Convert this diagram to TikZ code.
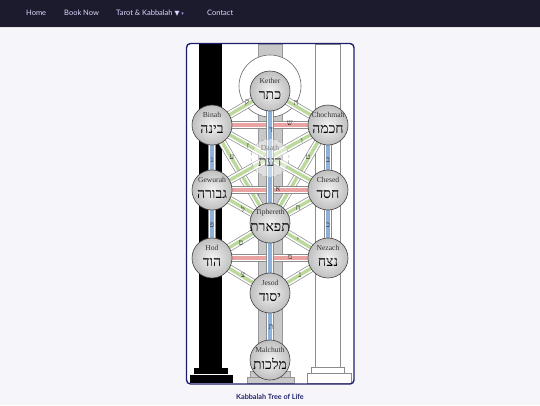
\documentclass[tikz,border=0pt]{standalone}
\usepackage{fontspec}
\setmainfont{Liberation Serif}
\newfontfamily\heb[Script=Hebrew]{Liberation Serif}
\newfontfamily\navfont{Lato}
\newfontfamily\symfont{DejaVu Sans}
\TeXXeTstate=1
\definecolor{navbg}{HTML}{1C1B2E}
\definecolor{pagebg}{HTML}{F6F6FA}
\definecolor{framenavy}{HTML}{1E1E6E}
\definecolor{capnavy}{HTML}{25256E}
\definecolor{midgray}{HTML}{C8C8C8}
\definecolor{pgreen}{HTML}{BCD99C}
\definecolor{ppink}{HTML}{E9A3A3}
\definecolor{pblue}{HTML}{8EB1DA}
\newcommand\hb[1]{\beginR #1\endR}
\newcommand\band[3]{%
  \draw[bandout] (#1) -- (#2);
  \draw[bandin] (#1) -- (#2);
  \draw[#3, line width=3.4pt] (#1) -- (#2);}
\begin{document}
\begin{tikzpicture}[x=1pt,y=-1pt,
  seph/.style={circle, minimum size=40pt, inner sep=0pt, draw=black!75, line width=0.6pt, inner color=white!95!black, outer color=black!25},
  en/.style={font=\fontsize{7.6}{8}\selectfont, text=black!80, inner sep=0pt},
  hbl/.style={font=\heb\fontsize{14}{15}\selectfont, text=black, inner sep=0pt},
  pl/.style={font=\heb\fontsize{8}{9}\selectfont, text=black!80, inner sep=0pt},
  navt/.style={font=\navfont\fontsize{7.5}{9}\selectfont, text=white!85!blue, anchor=west, inner sep=0pt},
  bandout/.style={line width=8pt, draw=black!45},
  bandin/.style={line width=6.6pt, draw=white},
]
\useasboundingbox (0,0) rectangle (540,405);
\fill[pagebg] (0,0) rectangle (540,405);
\fill[black!10] (0,26) rectangle (540,28);
\fill[navbg] (0,0) rectangle (540,26.5);
\node[navt] (home) at (26,13) {Home};
\node[navt] (book) at (64,13) {Book Now};
\node[navt] (tarot) at (116,13) {Tarot \& Kabbalah {\symfont\fontsize{6.5}{8}\selectfont ▼} {\symfont\fontsize{5}{6}\selectfont\color{white!60!blue}▾}};
\node[navt] (contact) at (207,13) {Contact};
% frame interior
\fill[white] (186.5,43.5) rectangle (354,384);
% pillars
\fill[black] (199,44) rectangle (222,368);
\fill[black] (194,368) rectangle (228,374);
\fill[black] (190,375) rectangle (233,383);
\filldraw[fill=midgray, draw=black!40, line width=0.5pt] (258,44) rectangle (282,371);
\filldraw[fill=midgray, draw=black!40, line width=0.5pt] (250,371) rectangle (290,377);
\filldraw[fill=midgray, draw=black!40, line width=0.5pt] (247,377) rectangle (294,383);
\draw[black!45, line width=0.6pt, fill=white] (315,44) rectangle (340,367);
\draw[black!45, line width=0.6pt, fill=white] (311,367) rectangle (344,373);
\draw[black!45, line width=0.6pt, fill=white] (307,373) rectangle (351,383);
% halo
\filldraw[fill=white, draw=black!60, line width=0.6pt] (270,86) circle[radius=31pt];
% sephirot centres
\coordinate (ke) at (270,91);
\coordinate (bi) at (212,125);
\coordinate (ch) at (328,125);
\coordinate (da) at (270,158);
\coordinate (ge) at (212,190);
\coordinate (hs) at (328,190);
\coordinate (ti) at (270,223);
\coordinate (ho) at (212,258);
\coordinate (ne) at (328,258);
\coordinate (ye) at (270,293);
\coordinate (ma) at (270,360);
% paths: simple letters (green)
\band{ke}{bi}{pgreen}
\band{ke}{ch}{pgreen}
\band{bi}{ti}{pgreen}
\band{ch}{ti}{pgreen}
\band{ge}{ti}{pgreen}
\band{hs}{ti}{pgreen}
\band{ho}{ti}{pgreen}
\band{ne}{ti}{pgreen}
\band{ho}{ye}{pgreen}
\band{ne}{ye}{pgreen}
\band{bi}{hs}{pgreen}
\band{ch}{ge}{pgreen}
% mothers (pink)
\band{bi}{ch}{ppink}
\band{ge}{hs}{ppink}
\band{ho}{ne}{ppink}
% doubles (blue)
\band{bi}{ge}{pblue}
\band{ge}{ho}{pblue}
\band{ch}{hs}{pblue}
\band{hs}{ne}{pblue}
\band{ke}{ti}{pblue}
\band{ti}{ye}{pblue}
\band{ye}{ma}{pblue}
% path letters
\node[pl] (l01) at (247,103) {ק};
\node[pl] (l02) at (296,103) {ה};
\node[pl] (l03) at (290,123) {ש};
\node[pl] (l04) at (212,160) {ג};
\node[pl] (l05) at (328,160) {ב};
\node[pl] (l06) at (271,130) {ד};
\node[pl] (l07) at (248,146) {ז};
\node[pl] (l08) at (302,141) {ו};
\node[pl] (l09) at (232,157) {ע};
\node[pl] (l10) at (308,157) {ט};
\node[pl] (l11) at (278,189) {א};
\node[pl] (l12) at (243,209) {ל};
\node[pl] (l13) at (298,208) {ח};
\node[pl] (l14) at (212,225) {פ};
\node[pl] (l15) at (328,225) {כ};
\node[pl] (l16) at (241,243) {ס};
\node[pl] (l17) at (298,240) {י};
\node[pl] (l18) at (290,257) {מ};
\node[pl] (l19) at (243,275) {צ};
\node[pl] (l20) at (300,275) {נ};
\node[pl] (l21) at (271,327) {ת};
% Daath
\node[circle, minimum size=38pt, inner sep=0pt, draw=black!35, dashed, line width=0.5pt, fill=white, fill opacity=0.45] (daath) at (da) {};
\node[en, text=black!50] (daath-en) at ([yshift=10pt]da) {Daath};
\node[hbl, text=black!70] (daath-hb) at ([yshift=-4pt]da) {\hb{דעת}};
% sephirot
\foreach \c/\n/\e/\h in {ke/kether/Kether/כתר, bi/binah/Binah/בינה, ch/chochmah/Chochmah/חכמה, ge/gewurah/Gewurah/גבורה, hs/chesed/Chesed/חסד, ti/tiphereth/Tiphereth/תפארת, ho/hod/Hod/הוד, ne/nezach/Nezach/נצח, ye/jesod/Jesod/יסוד, ma/malchuth/Malchuth/מלכות}{
  \node[seph] (\n) at (\c) {};
  \node[en] (\n-en) at ([yshift=10pt]\c) {\e};
  \node[hbl] (\n-hb) at ([yshift=-4pt]\c) {\hb{\h}};
}
% frame
\draw[framenavy, line width=1.4pt, rounded corners=4pt] (186.5,43.5) rectangle (354,384);
% caption
\node[font=\navfont\bfseries\fontsize{7.2}{8}\selectfont, text=capnavy, inner sep=0pt] (caption) at (270,396.5) {Kabbalah Tree of Life};
\end{tikzpicture}
\end{document}
